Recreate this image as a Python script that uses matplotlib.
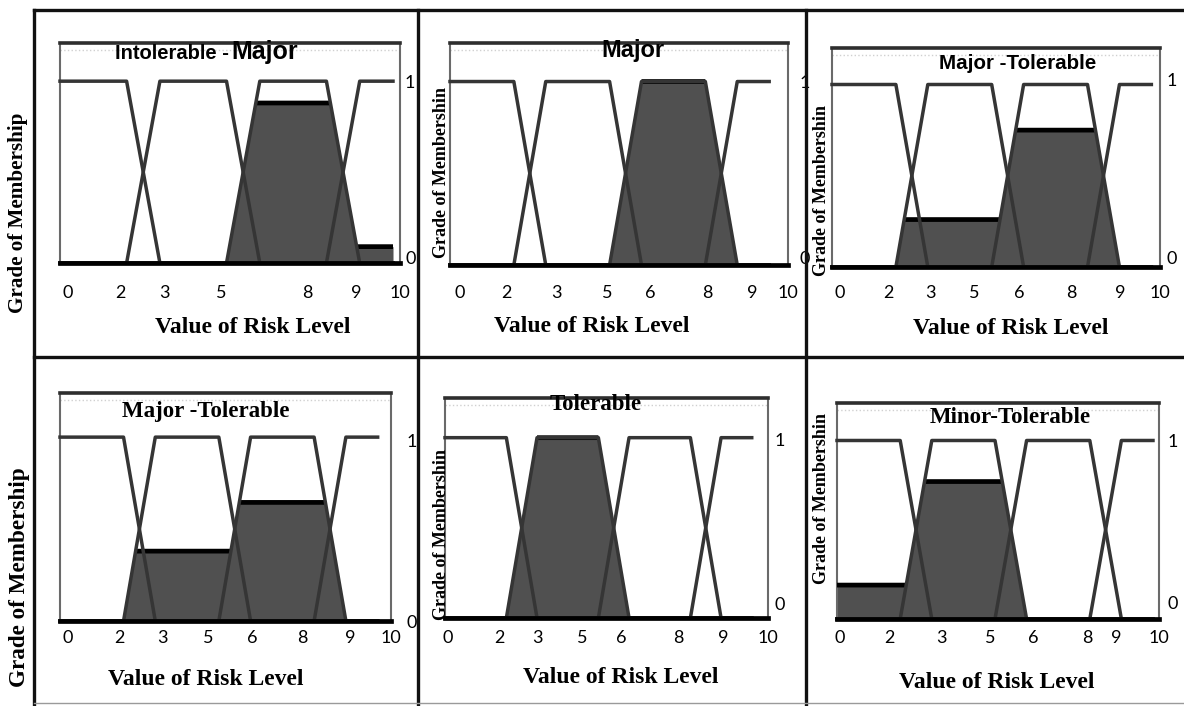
import numpy as np
import matplotlib.pyplot as plt
from matplotlib.lines import Line2D

W, H = 1184, 706

# membership functions on the risk scale: Minor, Tolerable, Major, Intolerable
risk = np.linspace(0, 10, 4001)
mf_x = [[0, 2, 3, 10], [0, 2, 3, 5, 6, 10], [0, 5, 6, 8, 9, 10], [0, 8, 9, 10]]
mf_y = [[1, 1, 0, 0], [0, 0, 1, 1, 0, 0], [0, 0, 1, 1, 0, 0], [0, 0, 1, 1]]

titles = ['Intolerable -Major', 'Major', 'Major -Tolerable',
          'Major -Tolerable', 'Tolerable', 'Minor-Tolerable']

# clipping level of each set (Minor, Tolerable, Major, Intolerable) per panel
alpha = [[0, 0, 0.88, 0.09],
         [0, 0, 1.0, 0],
         [0, 0.26, 0.75, 0],
         [0, 0.38, 0.645, 0],
         [0, 1.0, 0, 0],
         [0.19, 0.77, 0, 0]]

xtick_labels = [['0', '2', '3', '5', '8', '9', '10'],
                ['0', '2', '3', '5', '6', '8', '9', '10'],
                ['0', '2', '3', '5', '6', '8', '9', '10'],
                ['0', '2', '3', '5', '6', '8', '9', '10'],
                ['0', '2', '3', '5', '6', '8', '9', '10'],
                ['0', '2', '3', '5', '6', '8', '9', '10']]

# where the labels sit under each panel (the source is a pasted screenshot)
xtick_pos = [[0.24, 1.82, 3.15, 4.85, 7.44, 8.91, 10.21],
             [0.30, 1.78, 3.34, 4.94, 6.27, 8.05, 9.47, 10.59],
             [0.24, 1.77, 3.08, 4.45, 5.85, 7.50, 9.02, 10.27],
             [0.24, 1.87, 3.23, 4.68, 6.04, 7.64, 9.15, 10.42],
             [0.09, 1.76, 3.00, 4.49, 5.73, 7.59, 9.07, 10.53],
             [0.09, 1.65, 3.29, 4.84, 6.21, 7.92, 8.85, 10.19]]
ytick_pos = [[1.0, 0.03], [1.0, 0.04], [1.03, 0.05],
             [0.98, 0.0], [0.99, 0.08], [1.0, 0.09]]

# panel boxes in pixels: left, top, right, bottom(y=0), ytop, xpad, ypad
boxes = [(60, 43, 400, 263, 1.21, 16, 3.6),
         (450, 43, 788, 265, 1.21, 14.4, 8.6),
         (832, 48, 1160, 267, 1.20, 13, 5),
         (60, 393, 391, 621, 1.24, 6.5, 11.5),
         (445, 398, 768, 618, 1.22, 8.6, 5),
         (837, 403, 1159, 619, 1.21, 8, 5.8)]

# title anchors (x centre, baseline) and x-label anchors, pixels
title_at = [(170, 59), (633, 57), (1018, 69), (206, 417), (596, 410), (1010, 423)]
xlabel_at = [(253, 333), (592, 332), (1011, 334), (206, 685), (621, 683), (997, 688)]
inner_ylabel_at = [None, (442, 172), (822, 190), None, (442, 534), (822, 498)]

serif = 'Liberation Serif'
sans = 'Liberation Sans'
digits = 'Lato'

fig = plt.figure(figsize=(W / 100, H / 100), dpi=100)


def fx(px):
    return px / W


def fy(py):
    return 1 - py / H


for i in range(6):
    l, t, r, b, ytop, xpad, ypad = boxes[i]
    ax = fig.add_axes([fx(l), fy(b), (r - l) / W, (b - t) / H])
    ax.set_xlim(0, 10)
    ax.set_ylim(0, ytop)

    curves = [np.interp(risk, mx, my) for mx, my in zip(mf_x, mf_y)]
    clipped = [np.minimum(c, a) for c, a in zip(curves, alpha[i])]
    agg = np.max(clipped, axis=0)
    ax.fill_between(risk, 0, agg, color='#505050', lw=0, zorder=1)

    # thick black cap where a clipped set is flat
    for a in alpha[i]:
        if a <= 0:
            continue
        cap = np.where(np.isclose(agg, a), agg, np.nan)
        ax.plot(risk, cap, color='black', lw=3.4, zorder=3, solid_capstyle='butt')

    for mx, my in zip(mf_x, mf_y):
        ax.plot(mx, my, color='#353535', lw=2.5, zorder=4, clip_on=False)
    ax.axhline(0, color='black', lw=3.4, zorder=5, clip_on=False)
    ax.axhline(ytop - 0.04, color='#d0d0d0', lw=1, ls=':', zorder=0)

    for side in ['left', 'right']:
        ax.spines[side].set_color('#6a6a6a')
        ax.spines[side].set_linewidth(1.5)
    ax.spines['top'].set_color('#2e2e2e')
    ax.spines['top'].set_linewidth(2.6)
    ax.spines['bottom'].set_visible(False)

    ax.set_xticks(xtick_pos[i], xtick_labels[i])
    ax.tick_params(axis='x', length=0, pad=xpad, labelsize=13)
    ax.yaxis.tick_right()
    ax.set_yticks(ytick_pos[i], ['1', '0'])
    ax.tick_params(axis='y', length=0, pad=ypad, labelsize=13)
    for lab in ax.get_xticklabels() + ax.get_yticklabels():
        lab.set_family(digits)

    tx, ty = title_at[i]
    if i == 0:
        fig.text(fx(tx + 59), fy(ty), 'Intolerable -', family=sans, weight='bold',
                 fontsize=14.5, ha='right', va='baseline')
        fig.text(fx(tx + 61), fy(ty), 'Major', family=sans, weight='bold',
                 fontsize=18, ha='left', va='baseline')
    elif i < 3:
        fig.text(fx(tx), fy(ty), titles[i], family=sans, weight='bold',
                 fontsize=17 if i == 1 else 14.8, ha='center', va='baseline')
    else:
        fig.text(fx(tx), fy(ty), titles[i], family=serif, weight='bold',
                 fontsize=16.5, ha='center', va='baseline')

    lx, ly = xlabel_at[i]
    fig.text(fx(lx), fy(ly), 'Value of Risk Level', family=serif, weight='bold',
             fontsize=17, ha='center', va='baseline')

    if inner_ylabel_at[i] is not None:
        gx, gy = inner_ylabel_at[i]
        fig.text(fx(gx), fy(gy), 'Grade of Membershin', family=serif, weight='bold',
                 fontsize=13, rotation=90, ha='center', va='center')

fig.text(fx(18), fy(213), 'Grade of Membership', family=serif, weight='bold',
         fontsize=15.2, rotation=90, ha='center', va='center')
fig.text(fx(20), fy(577), 'Grade of Membership', family=serif, weight='bold',
         fontsize=16.7, rotation=90, ha='center', va='center')

# frame of the composite
frame = [((34, 1184), (10, 10)), ((34, 34), (10, 706)), ((418, 418), (10, 706)),
         ((806, 806), (10, 706)), ((34, 1184), (357, 357))]
for xs, ys in frame:
    fig.add_artist(Line2D([fx(v) for v in xs], [fy(v) for v in ys],
                          color='#111111', lw=2.4, zorder=10))
fig.add_artist(Line2D([fx(34), fx(1184)], [fy(703), fy(703)],
                      color='#9a9a9a', lw=1, zorder=10))

fig.savefig('out.png', dpi=100)
